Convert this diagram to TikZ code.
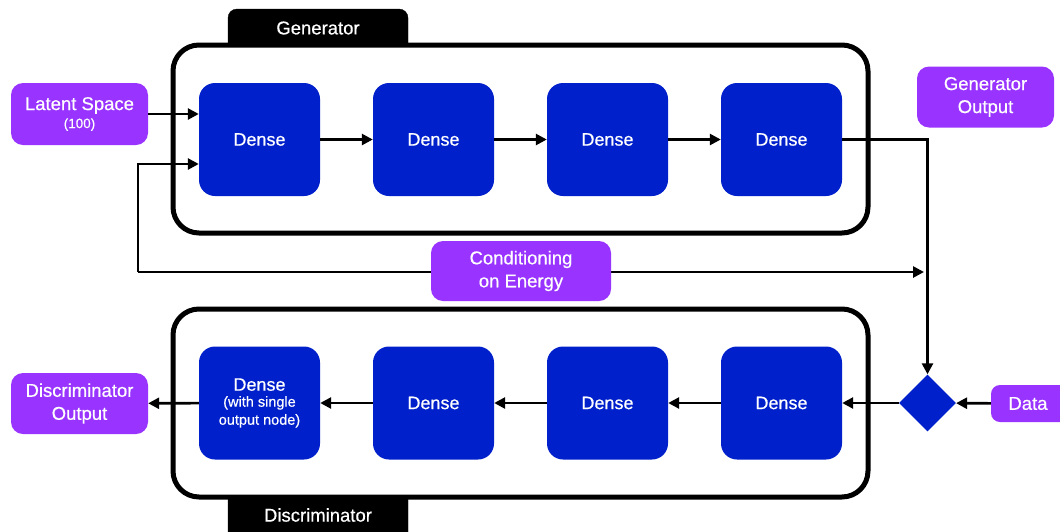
\documentclass[tikz,border=0pt]{standalone}
\usepackage{fontspec}
\setmainfont{Liberation Sans}[BoldFont={Liberation Sans},BoldFeatures={FakeBold=0.5}]
\usetikzlibrary{arrows.meta,shapes.geometric,calc}
\definecolor{dblue}{RGB}{0,32,204}
\definecolor{purp}{RGB}{153,51,255}
\begin{document}
\begin{tikzpicture}[x=1pt,y=-1pt,
  dense/.style={fill=dblue,rounded corners=16pt,minimum width=121pt,minimum height=113pt,text=white,font=\bfseries\fontsize{18}{21}\selectfont,align=center,inner sep=0pt},
  pbox/.style={fill=purp,rounded corners=12pt,text=white,font=\bfseries\fontsize{18.5}{23}\selectfont,align=center,inner sep=0pt},
  tab/.style={fill=black,rounded corners=9pt},
  tabtext/.style={text=white,font=\bfseries\fontsize{18.5}{21}\selectfont},
  container/.style={draw=black,line width=5pt,rounded corners=26pt,fill=white},
  arr/.style={line width=2.6pt,-{Triangle[length=11pt,width=11pt]}},
  ln/.style={line width=2.6pt}]
\useasboundingbox (0,0) rectangle (1060,531);
% tabs
\draw[tab] (228,9) rectangle (408,60);
\node[tabtext] (gentab) at (318,28) {Generator};
\draw[tab] (228,480) rectangle (408,545);
\node[tabtext] (distab) at (318,515) {Discriminator};
% containers
\draw[container] (173,45) rectangle (868,233);
\draw[container] (173,309) rectangle (868,497);
% dense boxes
\node[dense] (g1) at (259.5,139.5) {Dense};
\node[dense] (g2) at (433.5,139.5) {Dense};
\node[dense] (g3) at (607.5,139.5) {Dense};
\node[dense] (g4) at (781.5,139.5) {Dense};
\node[dense] (d1) at (259.5,403) {Dense\\[-5pt]{\fontsize{14.5}{17}\selectfont (with single}\\[-3pt]{\fontsize{14.5}{17}\selectfont output node)}};
\node[dense] (d2) at (433.5,403) {Dense};
\node[dense] (d3) at (607.5,403) {Dense};
\node[dense] (d4) at (781.5,403) {Dense};
% purple boxes
\node[pbox,minimum width=137pt,minimum height=62pt] (latent) at (79.5,114) {\raisebox{0pt}{Latent Space}\\[-5pt]{\fontsize{13.5}{15}\selectfont (100)}};
\node[pbox,minimum width=137pt,minimum height=61pt] (genout) at (985.5,97) {Generator\\Output};
\node[pbox,minimum width=137pt,minimum height=61pt] (disout) at (79.5,403.5) {Discriminator\\Output};
\node[pbox,minimum width=80pt,minimum height=37pt,rounded corners=9pt,text width=80pt] (data) at (1031,403.5) {\hspace*{-6pt}Data};
\node[diamond,fill=dblue,minimum width=57pt,minimum height=57pt,inner sep=0pt] (mix) at (927.5,403) {};
% connectors
\coordinate (cl) at (138,272);
\coordinate (cr) at (924,272);
\draw[arr] (latent.east) -- (latent.east -| g1.west);
\draw[arr] (g1) -- (g2);
\draw[arr] (g2) -- (g3);
\draw[arr] (g3) -- (g4);
\draw[arr] (g4.east) -| (mix.north);
\draw[arr] (data) -- (mix);
\draw[arr] (mix) -- (d4);
\draw[arr] (d4) -- (d3);
\draw[arr] (d3) -- (d2);
\draw[arr] (d2) -- (d1);
\draw[arr] (d1) -- (disout);
\draw[arr] (cl) |- ($(g1.west)+(0,24.5)$);
\draw[arr] (cl) -- (cr);
\node[pbox,minimum width=180pt,minimum height=60pt] (cond) at (521,271) {Conditioning\\on Energy};
\end{tikzpicture}
\end{document}
